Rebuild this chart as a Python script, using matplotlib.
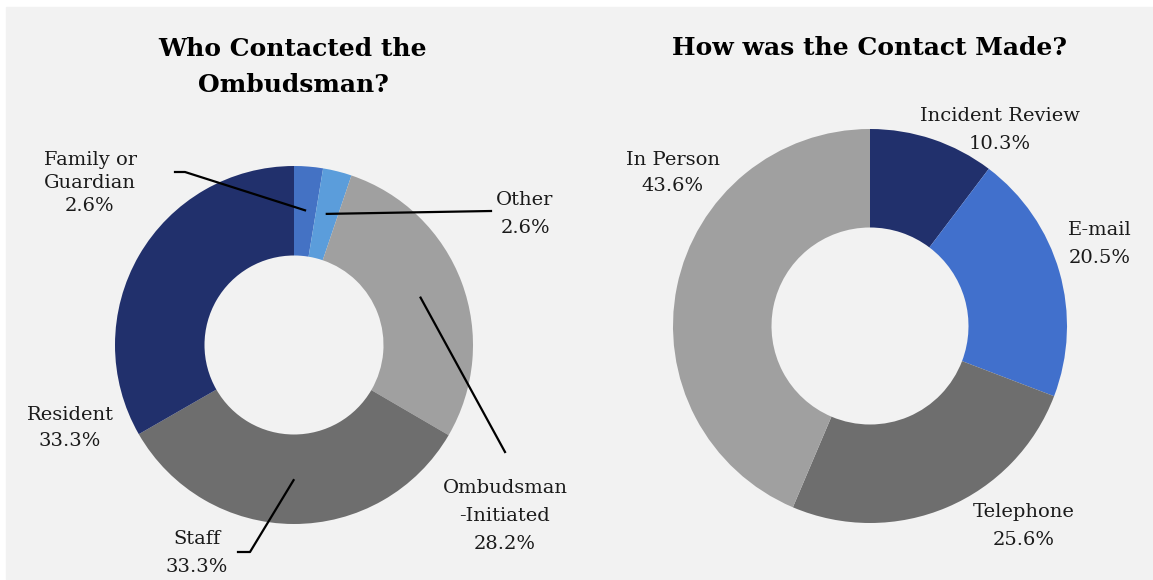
import numpy as np
import matplotlib
matplotlib.use("Agg")
import matplotlib.pyplot as plt
from matplotlib.patches import Rectangle

# data
who_labels = ["Family or\nGuardian", "Other", "Ombudsman\n-Initiated", "Staff", "Resident"]
who_values = [2.6, 2.6, 28.2, 33.3, 33.3]
who_colors = ["#4472c4", "#5b9ddb", "#a0a0a0", "#6e6e6e", "#21306c"]

how_labels = ["Incident Review", "E-mail", "Telephone", "In Person"]
how_values = [10.3, 20.5, 25.6, 43.6]
how_colors = ["#21306c", "#4170cc", "#6e6e6e", "#a0a0a0"]

W, H = 1153, 580
FONT = "DejaVu Serif"


def P(x, y):
    # pixel coords (top-left origin) -> axes data coords
    return (x, H - y)


fig = plt.figure(figsize=(W / 100, H / 100), dpi=100, facecolor="white")
fig.patches.append(Rectangle((6 / W, 1 / H), 1 - 6 / W, 1 - 8 / H,
                             transform=fig.transFigure, color="#f2f2f2", zorder=-5))
ax = fig.add_axes([0, 0, 1, 1])
ax.patch.set_visible(False)


def donut(values, colors, center, radius):
    wedges, _ = ax.pie(values, colors=colors, startangle=90, counterclock=False,
                       radius=radius, center=P(*center),
                       wedgeprops=dict(width=radius * 0.5, linewidth=0))
    return wedges


def anchor(wedge, center, radius, frac=0.755):
    ang = np.deg2rad((wedge.theta1 + wedge.theta2) / 2)
    cx, cy = P(*center)
    return (cx + frac * radius * np.cos(ang), cy + frac * radius * np.sin(ang))


def label(text, value, xy, ls=1.7):
    ax.text(*P(*xy), f"{text}\n{value:.1f}%", ha="center", va="center",
            fontsize=14, family=FONT, linespacing=ls, color="#1a1a1a")


# left chart
c1, r1 = (294, 345), 179
w1 = donut(who_values, who_colors, c1, r1)
ax.text(*P(293, 67), "Who Contacted the\nOmbudsman?", ha="center", va="center",
        fontsize=18, fontweight="bold", family=FONT, linespacing=1.65)

label(who_labels[0], who_values[0], (90, 183), ls=1.36)
label(who_labels[1], who_values[1], (525, 214))
label(who_labels[2], who_values[2], (505, 516))
label(who_labels[3], who_values[3], (197, 553))
label(who_labels[4], who_values[4], (70, 428), ls=1.58)

lk = dict(color="black", lw=1.6)
a = anchor(w1[0], c1, r1)
ax.plot([P(175, 172)[0], P(185, 172)[0], a[0]], [P(175, 172)[1], P(185, 172)[1], a[1]], **lk)
a = anchor(w1[1], c1, r1)
ax.plot([a[0], P(491, 211)[0]], [a[1], P(491, 211)[1]], **lk)
a = anchor(w1[2], c1, r1)
ax.plot([a[0], P(505, 452)[0]], [a[1], P(505, 452)[1]], **lk)
a = anchor(w1[3], c1, r1)
ax.plot([a[0], P(250, 552)[0], P(238, 552)[0]], [a[1], P(250, 552)[1], P(238, 552)[1]], **lk)

# right chart
c2, r2 = (870, 326), 197
w2 = donut(how_values, how_colors, c2, r2)
ax.text(*P(870, 48), "How was the Contact Made?", ha="center", va="center",
        fontsize=18, fontweight="bold", family=FONT)

label(how_labels[0], how_values[0], (1000, 130), ls=1.75)
label(how_labels[1], how_values[1], (1100, 244))
label(how_labels[2], how_values[2], (1024, 526))
label(how_labels[3], how_values[3], (673, 173), ls=1.58)

ax.set_xlim(0, W)
ax.set_ylim(0, H)
ax.set_aspect("equal")
ax.axis("off")

fig.savefig("out.png", dpi=100, facecolor=fig.get_facecolor())
